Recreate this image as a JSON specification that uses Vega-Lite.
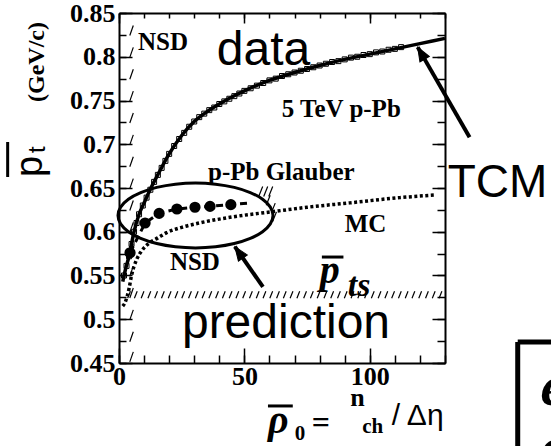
{
  "$schema": "https://vega.github.io/schema/vega-lite/v6.json",
  "width": 326,
  "height": 350,
  "autosize": {"type": "none"},
  "padding": {"left": 119, "top": 13, "right": 106, "bottom": 83},
  "background": "white",
  "config": {
    "view": {"stroke": null},
    "axis": {
      "grid": false,
      "title": null,
      "domainColor": "black",
      "domainWidth": 2,
      "tickColor": "black",
      "tickWidth": 1.5,
      "labelColor": "black",
      "labelFont": "Liberation Serif",
      "labelFontWeight": "bold",
      "labelFontSize": 26,
      "labelOverlap": false,
      "labelFlush": false
    }
  },
  "datasets": {
    "tcm": [
      {"x": 1.5, "y": 0.543}, {"x": 2.5, "y": 0.556}, {"x": 4, "y": 0.572}, {"x": 6, "y": 0.6},
      {"x": 8, "y": 0.62}, {"x": 10, "y": 0.633}, {"x": 12.4, "y": 0.648}, {"x": 16, "y": 0.668},
      {"x": 20, "y": 0.689}, {"x": 25, "y": 0.71}, {"x": 30, "y": 0.726}, {"x": 35, "y": 0.737},
      {"x": 40, "y": 0.746}, {"x": 45, "y": 0.754}, {"x": 50, "y": 0.761}, {"x": 60, "y": 0.773},
      {"x": 70, "y": 0.782}, {"x": 80, "y": 0.79}, {"x": 90, "y": 0.797}, {"x": 100, "y": 0.803},
      {"x": 110, "y": 0.809}, {"x": 120, "y": 0.815}, {"x": 130, "y": 0.821}
    ],
    "sq": [
      {"x": 2, "y": 0.55}, {"x": 3, "y": 0.561}, {"x": 4, "y": 0.572}, {"x": 5, "y": 0.586},
      {"x": 6, "y": 0.6}, {"x": 7, "y": 0.61}, {"x": 8, "y": 0.62}, {"x": 9.5, "y": 0.63},
      {"x": 11, "y": 0.639}, {"x": 12.5, "y": 0.648}, {"x": 14, "y": 0.657}, {"x": 15.5, "y": 0.665},
      {"x": 17, "y": 0.673}, {"x": 18.5, "y": 0.681}, {"x": 20, "y": 0.689}, {"x": 22, "y": 0.698},
      {"x": 24, "y": 0.706}, {"x": 26, "y": 0.713}, {"x": 28, "y": 0.72}, {"x": 30, "y": 0.726},
      {"x": 32, "y": 0.731}, {"x": 34, "y": 0.735}, {"x": 36, "y": 0.739}, {"x": 38, "y": 0.742},
      {"x": 40, "y": 0.746}, {"x": 42, "y": 0.749}, {"x": 44, "y": 0.752}, {"x": 46, "y": 0.755},
      {"x": 48, "y": 0.758}, {"x": 50, "y": 0.761}, {"x": 52.5, "y": 0.764}, {"x": 55, "y": 0.767},
      {"x": 57.5, "y": 0.77}, {"x": 60, "y": 0.773}, {"x": 62.5, "y": 0.775}, {"x": 65, "y": 0.778},
      {"x": 67.5, "y": 0.78}, {"x": 70, "y": 0.782}, {"x": 72.5, "y": 0.784}, {"x": 75, "y": 0.786},
      {"x": 77.5, "y": 0.788}, {"x": 80, "y": 0.79}, {"x": 82.5, "y": 0.792}, {"x": 85, "y": 0.794},
      {"x": 87.5, "y": 0.795}, {"x": 90, "y": 0.797}, {"x": 92.5, "y": 0.799}, {"x": 95, "y": 0.8},
      {"x": 97.5, "y": 0.802}, {"x": 100, "y": 0.803}, {"x": 102.5, "y": 0.805}, {"x": 105, "y": 0.806},
      {"x": 107.5, "y": 0.808}, {"x": 110, "y": 0.809}, {"x": 112.5, "y": 0.811}
    ],
    "glauber": [
      {"x": 4.4, "y": 0.576}, {"x": 10.4, "y": 0.61}, {"x": 16, "y": 0.621}, {"x": 23.1, "y": 0.626},
      {"x": 30.3, "y": 0.628}, {"x": 36.3, "y": 0.629}, {"x": 44.6, "y": 0.631}
    ],
    "glline": [
      {"x": 4.4, "y": 0.576}, {"x": 10.4, "y": 0.61}, {"x": 16, "y": 0.621}, {"x": 23.1, "y": 0.626},
      {"x": 30.3, "y": 0.628}, {"x": 36.3, "y": 0.629}, {"x": 44.6, "y": 0.631}, {"x": 53, "y": 0.633}
    ],
    "mc": [
      {"x": 1.5, "y": 0.515}, {"x": 2.4, "y": 0.519}, {"x": 4, "y": 0.535}, {"x": 5, "y": 0.55},
      {"x": 7, "y": 0.568}, {"x": 9, "y": 0.578}, {"x": 12, "y": 0.587}, {"x": 15.5, "y": 0.593},
      {"x": 19, "y": 0.599}, {"x": 25, "y": 0.605}, {"x": 32, "y": 0.61}, {"x": 45.4, "y": 0.617},
      {"x": 61.4, "y": 0.623}, {"x": 75, "y": 0.628}, {"x": 92, "y": 0.633}, {"x": 112, "y": 0.639},
      {"x": 126, "y": 0.642}
    ],
    "ell": [
      {"i": 0, "x": 61.4, "y": 0.6186}, {"i": 1, "x": 60.35, "y": 0.6282}, {"i": 2, "x": 57.26, "y": 0.6372},
      {"i": 3, "x": 52.35, "y": 0.6448}, {"i": 4, "x": 45.95, "y": 0.6507}, {"i": 5, "x": 38.5, "y": 0.6544},
      {"i": 6, "x": 30.5, "y": 0.6557}, {"i": 7, "x": 22.5, "y": 0.6544}, {"i": 8, "x": 15.05, "y": 0.6507},
      {"i": 9, "x": 8.65, "y": 0.6448}, {"i": 10, "x": 3.74, "y": 0.6372}, {"i": 11, "x": 0.65, "y": 0.6282},
      {"i": 12, "x": -0.4, "y": 0.6186}, {"i": 13, "x": 0.65, "y": 0.609}, {"i": 14, "x": 3.74, "y": 0.6001},
      {"i": 15, "x": 8.65, "y": 0.5924}, {"i": 16, "x": 15.05, "y": 0.5865}, {"i": 17, "x": 22.5, "y": 0.5828},
      {"i": 18, "x": 30.5, "y": 0.5815}, {"i": 19, "x": 38.5, "y": 0.5828}, {"i": 20, "x": 45.95, "y": 0.5865},
      {"i": 21, "x": 52.35, "y": 0.5924}, {"i": 22, "x": 57.26, "y": 0.6001}, {"i": 23, "x": 60.35, "y": 0.609}
    ],
    "hh": [
      {"x": 4.0, "y": 0.528}, {"x": 6.7, "y": 0.528}, {"x": 9.4, "y": 0.528}, {"x": 12.1, "y": 0.528},
      {"x": 14.8, "y": 0.528}, {"x": 17.5, "y": 0.528}, {"x": 20.2, "y": 0.528}, {"x": 22.9, "y": 0.528},
      {"x": 25.6, "y": 0.528}, {"x": 28.3, "y": 0.528}, {"x": 31.0, "y": 0.528}, {"x": 33.7, "y": 0.528},
      {"x": 36.4, "y": 0.528}, {"x": 39.1, "y": 0.528}, {"x": 41.8, "y": 0.528}, {"x": 44.5, "y": 0.528},
      {"x": 47.2, "y": 0.528}, {"x": 49.9, "y": 0.528}, {"x": 52.6, "y": 0.528}, {"x": 55.3, "y": 0.528},
      {"x": 58.0, "y": 0.528}, {"x": 60.7, "y": 0.528}, {"x": 63.4, "y": 0.528}, {"x": 66.1, "y": 0.528},
      {"x": 68.8, "y": 0.528}, {"x": 71.5, "y": 0.528}, {"x": 74.2, "y": 0.528}, {"x": 76.9, "y": 0.528},
      {"x": 79.6, "y": 0.528}, {"x": 82.3, "y": 0.528}, {"x": 85.0, "y": 0.528}, {"x": 87.7, "y": 0.528},
      {"x": 90.4, "y": 0.528}, {"x": 93.1, "y": 0.528}, {"x": 95.8, "y": 0.528}, {"x": 98.5, "y": 0.528},
      {"x": 101.2, "y": 0.528}, {"x": 103.9, "y": 0.528}, {"x": 106.6, "y": 0.528}, {"x": 109.3, "y": 0.528},
      {"x": 112.0, "y": 0.528}, {"x": 114.7, "y": 0.528}, {"x": 117.4, "y": 0.528}, {"x": 120.1, "y": 0.528},
      {"x": 122.8, "y": 0.528}, {"x": 125.5, "y": 0.528}, {"x": 128.2, "y": 0.528}
    ],
    "hv": [
      {"x": 5, "y": 0.83}, {"x": 5, "y": 0.805}, {"x": 5, "y": 0.78}, {"x": 5, "y": 0.755},
      {"x": 5, "y": 0.73}, {"x": 5, "y": 0.705}, {"x": 5, "y": 0.68}, {"x": 5, "y": 0.655},
      {"x": 5, "y": 0.63}, {"x": 5, "y": 0.605}, {"x": 5, "y": 0.58}, {"x": 5, "y": 0.555},
      {"x": 5, "y": 0.53}, {"x": 5, "y": 0.505}, {"x": 5, "y": 0.48}, {"x": 5, "y": 0.457}
    ],
    "he": [
      {"x": 56.5, "y": 0.646}, {"x": 58.5, "y": 0.646}, {"x": 60.5, "y": 0.646},
      {"x": 59.5, "y": 0.636}, {"x": 61.5, "y": 0.627}, {"x": 62.0, "y": 0.617}
    ],
    "arrTCM": [{"x": 139.8, "y": 0.708, "x2": 119.1, "y2": 0.811}],
    "arrPts": [{"x": 57.4, "y": 0.537, "x2": 46.2, "y2": 0.583}],
    "bars": [
      {"x": 80.9, "y": 0.5711, "x2": 89.5, "y2": 0.5711},
      {"x": 59.4, "y": 0.4009, "x2": 69.3, "y2": 0.4009},
      {"x": -44.4, "y": 0.6626, "x2": -44.4, "y2": 0.7026}
    ],
    "box": [
      {"x": 159.0, "y": 0.474, "x2": 159.0, "y2": 0.33},
      {"x": 159.0, "y": 0.474, "x2": 180.0, "y2": 0.474}
    ]
  },
  "encoding": {
    "x": {"field": "x", "type": "quantitative", "scale": {"domain": [0, 130], "nice": false, "zero": false}, "axis": null},
    "y": {"field": "y", "type": "quantitative", "scale": {"domain": [0.45, 0.85], "nice": false, "zero": false}, "axis": null}
  },
  "layer": [
    {
      "data": {"name": "hh"},
      "mark": {"type": "point", "shape": "M-0.4,1L0.4,-1", "size": 49, "stroke": "black", "strokeWidth": 1.2, "filled": false, "opacity": 1}
    },
    {
      "data": {"name": "hv"},
      "mark": {"type": "point", "shape": "M-0.35,1L0.35,-1", "size": 100, "stroke": "black", "strokeWidth": 1.2, "filled": false, "opacity": 1}
    },
    {
      "data": {"name": "he"},
      "mark": {"type": "point", "shape": "M-0.4,1L0.4,-1", "size": 100, "stroke": "black", "strokeWidth": 1.2, "filled": false, "opacity": 1}
    },
    {
      "data": {"name": "sq"},
      "mark": {"type": "point", "shape": "square", "size": 25, "stroke": "black", "strokeWidth": 1, "filled": false, "opacity": 1},
      "encoding": {
        "x": {"field": "x", "type": "quantitative", "scale": {"domain": [0, 130], "nice": false, "zero": false},
              "axis": {"orient": "bottom", "values": [0,10,20,30,40,50,60,70,80,90,100,110,120,130], "labels": false, "ticks": true, "tickSize": -8, "domain": false}},
        "y": {"field": "y", "type": "quantitative", "scale": {"domain": [0.45, 0.85], "nice": false, "zero": false},
              "axis": {"orient": "left", "values": [0.45,0.475,0.5,0.525,0.55,0.575,0.6,0.625,0.65,0.675,0.7,0.725,0.75,0.775,0.8,0.825,0.85], "labels": false, "ticks": true, "tickSize": -7, "domain": false}}
      }
    },
    {
      "data": {"name": "tcm"},
      "mark": {"type": "line", "stroke": "black", "strokeWidth": 3.5, "interpolate": "monotone"},
      "encoding": {
        "x": {"field": "x", "type": "quantitative", "scale": {"domain": [0, 130], "nice": false, "zero": false},
              "axis": {"orient": "bottom", "values": [0, 50, 100], "labels": true, "ticks": false, "domain": true, "labelPadding": 0}},
        "y": {"field": "y", "type": "quantitative", "scale": {"domain": [0.45, 0.85], "nice": false, "zero": false},
              "axis": {"orient": "left", "values": [0.45,0.5,0.55,0.6,0.65,0.7,0.75,0.8,0.85], "labels": true, "ticks": false, "domain": true, "labelPadding": 4, "labelExpr": "format(datum.value, '.2~f')"}}
      }
    },
    {
      "data": {"name": "mc"},
      "mark": {"type": "line", "stroke": "black", "strokeWidth": 3.5, "strokeDash": [3, 2.5], "interpolate": "monotone"},
      "encoding": {
        "x": {"field": "x", "type": "quantitative", "scale": {"domain": [0, 130], "nice": false, "zero": false},
              "axis": {"orient": "top", "values": [0, 50, 100], "labels": false, "ticks": true, "tickSize": -10, "domain": false}},
        "y": {"field": "y", "type": "quantitative", "scale": {"domain": [0.45, 0.85], "nice": false, "zero": false},
              "axis": {"orient": "right", "values": [0.45,0.5,0.55,0.6,0.65,0.7,0.75,0.8,0.85], "labels": false, "ticks": true, "tickSize": -13, "domain": false}}
      }
    },
    {
      "data": {"name": "glline"},
      "mark": {"type": "line", "stroke": "black", "strokeWidth": 3, "strokeDash": [7, 5]},
      "encoding": {
        "x": {"field": "x", "type": "quantitative", "scale": {"domain": [0, 130], "nice": false, "zero": false},
              "axis": {"orient": "top", "values": [0,10,20,30,40,50,60,70,80,90,100,110,120,130], "labels": false, "ticks": true, "tickSize": -5, "domain": true}},
        "y": {"field": "y", "type": "quantitative", "scale": {"domain": [0.45, 0.85], "nice": false, "zero": false},
              "axis": {"orient": "right", "values": [0.45,0.475,0.5,0.525,0.55,0.575,0.6,0.625,0.65,0.675,0.7,0.725,0.75,0.775,0.8,0.825,0.85], "labels": false, "ticks": true, "tickSize": -8, "domain": true}}
      }
    },
    {
      "data": {"name": "glauber"},
      "mark": {"type": "point", "shape": "circle", "size": 85, "fill": "black", "stroke": "black", "filled": true, "opacity": 1},
      "encoding": {
        "x": {"field": "x", "type": "quantitative", "scale": {"domain": [0, 130], "nice": false, "zero": false},
              "axis": {"orient": "bottom", "values": [0, 50, 100], "labels": false, "ticks": true, "tickSize": -15, "domain": false}},
        "y": {"field": "y", "type": "quantitative", "scale": {"domain": [0.45, 0.85], "nice": false, "zero": false},
              "axis": {"orient": "left", "values": [0.45,0.5,0.55,0.6,0.65,0.7,0.75,0.8,0.85], "labels": false, "ticks": true, "tickSize": -13, "domain": false}}
      }
    },
    {
      "data": {"name": "ell"},
      "mark": {"type": "line", "stroke": "black", "strokeWidth": 3, "interpolate": "cardinal-closed"},
      "encoding": {"order": {"field": "i", "type": "quantitative"}}
    },
    {
      "data": {"name": "arrTCM"},
      "mark": {"type": "rule", "stroke": "black", "strokeWidth": 4},
      "encoding": {"x2": {"field": "x2"}, "y2": {"field": "y2"}}
    },
    {
      "data": {"name": "arrTCM"},
      "mark": {"type": "point", "shape": "M0,0L0.7,1.8L-0.7,1.8Z", "size": 240, "angle": 330, "filled": true, "fill": "black", "stroke": "black", "strokeWidth": 1, "opacity": 1},
      "encoding": {"x": {"field": "x2", "type": "quantitative"}, "y": {"field": "y2", "type": "quantitative"}}
    },
    {
      "data": {"name": "arrPts"},
      "mark": {"type": "rule", "stroke": "black", "strokeWidth": 4},
      "encoding": {"x2": {"field": "x2"}, "y2": {"field": "y2"}}
    },
    {
      "data": {"name": "arrPts"},
      "mark": {"type": "point", "shape": "M0,0L0.7,1.8L-0.7,1.8Z", "size": 240, "angle": 325, "filled": true, "fill": "black", "stroke": "black", "strokeWidth": 1, "opacity": 1},
      "encoding": {"x": {"field": "x2", "type": "quantitative"}, "y": {"field": "y2", "type": "quantitative"}}
    },
    {
      "data": {"name": "bars"},
      "mark": {"type": "rule", "stroke": "black", "strokeWidth": 3},
      "encoding": {"x2": {"field": "x2"}, "y2": {"field": "y2"}}
    },
    {
      "data": {"name": "box"},
      "mark": {"type": "rule", "stroke": "black", "strokeWidth": 5},
      "encoding": {"x2": {"field": "x2"}, "y2": {"field": "y2"}}
    },
    {
      "data": {"values": [
        {"t": "NSD", "x": 7.6, "y": 0.8077},
        {"t": "5 TeV p-Pb", "x": 64.9, "y": 0.7311},
        {"t": "p-Pb Glauber", "x": 35.5, "y": 0.6591},
        {"t": "MC", "x": 90.0, "y": 0.6},
        {"t": "NSD", "x": 20.3, "y": 0.5563}
      ]},
      "mark": {"type": "text", "font": "Liberation Serif", "fontWeight": "bold", "fontSize": 25, "align": "left", "baseline": "alphabetic", "color": "black"},
      "encoding": {"text": {"field": "t"}}
    },
    {
      "data": {"values": [
        {"t": "data", "x": 39, "y": 0.7906},
        {"t": "prediction", "x": 25.1, "y": 0.4786}
      ]},
      "mark": {"type": "text", "font": "Liberation Sans", "fontSize": 48, "align": "left", "baseline": "alphabetic", "color": "black"},
      "encoding": {"text": {"field": "t"}}
    },
    {
      "data": {"values": [{"t": "TCM", "x": 131.1, "y": 0.6397}]},
      "mark": {"type": "text", "font": "Liberation Sans", "fontSize": 46, "align": "left", "baseline": "alphabetic", "color": "black"},
      "encoding": {"text": {"field": "t"}}
    },
    {
      "data": {"values": [{"t": "p", "x": 80.1, "y": 0.5414}, {"t": "ρ", "x": 59.4, "y": 0.37}]},
      "mark": {"type": "text", "font": "Liberation Serif", "fontWeight": "bold", "fontStyle": "italic", "fontSize": 40, "align": "left", "baseline": "alphabetic", "color": "black"},
      "encoding": {"text": {"field": "t"}}
    },
    {
      "data": {"values": [{"t": "ts", "x": 91.2, "y": 0.527}]},
      "mark": {"type": "text", "font": "Liberation Serif", "fontWeight": "bold", "fontStyle": "italic", "fontSize": 34, "align": "left", "baseline": "alphabetic", "color": "black"},
      "encoding": {"text": {"field": "t"}}
    },
    {
      "data": {"values": [{"t": "e", "x": 168.1, "y": 0.402}, {"t": "c", "x": 168.1, "y": 0.332}]},
      "mark": {"type": "text", "font": "Liberation Serif", "fontWeight": "bold", "fontStyle": "italic", "fontSize": 56, "align": "left", "baseline": "alphabetic", "color": "black"},
      "encoding": {"text": {"field": "t"}}
    },
    {
      "data": {"values": [{"t": "0", "x": 70.1, "y": 0.362}, {"t": "ch", "x": 97.0, "y": 0.37}]},
      "mark": {"type": "text", "font": "Liberation Serif", "fontWeight": "bold", "fontSize": 21, "align": "left", "baseline": "alphabetic", "color": "black"},
      "encoding": {"text": {"field": "t"}}
    },
    {
      "data": {"values": [{"t": "=", "x": 76.9, "y": 0.37}]},
      "mark": {"type": "text", "font": "Liberation Serif", "fontWeight": "bold", "fontSize": 32, "align": "left", "baseline": "alphabetic", "color": "black"},
      "encoding": {"text": {"field": "t"}}
    },
    {
      "data": {"values": [{"t": "n", "x": 92.2, "y": 0.4005}]},
      "mark": {"type": "text", "font": "Liberation Serif", "fontWeight": "bold", "fontSize": 26, "align": "left", "baseline": "alphabetic", "color": "black"},
      "encoding": {"text": {"field": "t"}}
    },
    {
      "data": {"values": [{"t": "/ Δη", "x": 108.8, "y": 0.379}]},
      "mark": {"type": "text", "font": "Liberation Sans", "fontSize": 30, "align": "left", "baseline": "alphabetic", "color": "black"},
      "encoding": {"text": {"field": "t"}}
    },
    {
      "data": {"values": [{"t": "(GeV/c)", "x": -32.7, "y": 0.794}]},
      "mark": {"type": "text", "font": "Liberation Serif", "fontWeight": "bold", "fontSize": 24, "align": "center", "baseline": "middle", "angle": 270, "color": "black"},
      "encoding": {"text": {"field": "t"}}
    },
    {
      "data": {"values": [{"t": "p", "x": -30.7, "y": 0.6626}]},
      "mark": {"type": "text", "font": "Liberation Sans", "fontSize": 38, "align": "left", "baseline": "alphabetic", "angle": 270, "color": "black"},
      "encoding": {"text": {"field": "t"}}
    },
    {
      "data": {"values": [{"t": "t", "x": -29.5, "y": 0.69}]},
      "mark": {"type": "text", "font": "Liberation Sans", "fontSize": 24, "align": "left", "baseline": "alphabetic", "angle": 270, "color": "black"},
      "encoding": {"text": {"field": "t"}}
    }
  ]
}
